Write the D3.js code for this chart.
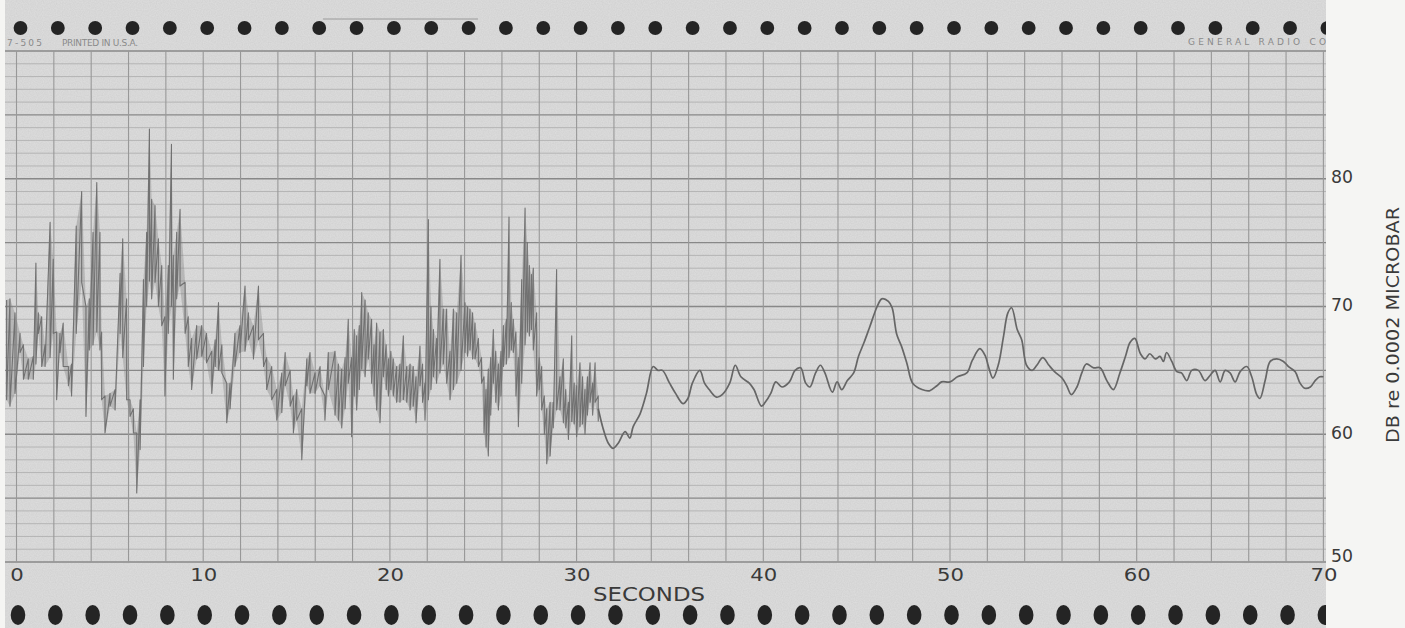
<!DOCTYPE html>
<html>
<head>
<meta charset="utf-8">
<script src="https://cdn.jsdelivr.net/npm/d3@7"></script>
<style>
    html, body { margin: 0; padding: 0; background: #f5f5f3; }
    svg { display: block; }
    .tick text { font-family: "DejaVu Sans", sans-serif; fill: #3a3a3a; }
</style>
</head>
<body>
<div id="vis"></div>
<script>
//tick labels of the recorder paper
const secondTicks = [0, 10, 20, 30, 40, 50, 60, 70]
const dbTicks = [50, 60, 70, 80]

//first half of the record (noisy): upper and lower edge of the pen scribble, in seconds / dB
const noiseTime = [-0.53, -0.35, -0.08, 0.19, 0.37, 0.63, 0.90, 1.04, 1.17, 1.35,
    1.53, 1.80, 1.97, 2.15, 2.33, 2.50, 2.78, 2.95, 3.20, 3.49,
    3.72, 3.90, 4.10, 4.30, 4.47, 4.56, 4.74, 5.01, 5.28, 5.55,
    5.69, 5.90, 6.08, 6.26, 6.44, 6.62, 6.80, 6.97, 7.12, 7.24,
    7.42, 7.60, 7.78, 7.95, 8.13, 8.30, 8.40, 8.58, 8.76, 9.03,
    9.20, 9.38, 9.65, 9.92, 10.18, 10.46, 10.64, 10.82, 11.00, 11.26,
    11.44, 11.70, 11.97, 12.24, 12.42, 12.69, 12.96, 13.23, 13.40, 13.67,
    13.94, 14.21, 14.39, 14.66, 14.83, 15.01, 15.28, 15.55, 15.72, 15.99,
    16.26, 16.52, 16.70,
    17.06, 17.24, 17.42, 17.60, 17.77, 17.95, 18.09, 18.22, 18.36, 18.49,
    18.67, 18.84, 19.02, 19.15, 19.29, 19.47, 19.65, 19.80, 19.92, 20.05,
    20.18, 20.36, 20.54, 20.72, 20.90, 21.08, 21.25, 21.40, 21.61, 21.75,
    21.88, 22.06, 22.20, 22.33, 22.50, 22.68, 22.86, 23.04, 23.22, 23.40,
    23.58, 23.81, 24.02, 24.16, 24.29, 24.43, 24.56, 24.74, 24.91, 25.04,
    25.15, 25.27, 25.40, 25.54, 25.67, 25.81, 25.95, 26.08, 26.24, 26.38,
    26.50, 26.61, 26.75, 26.88, 27.06, 27.24, 27.36, 27.47, 27.58, 27.68,
    27.86, 28.00, 28.13, 28.27, 28.40, 28.58, 28.75, 28.93, 29.11, 29.29,
    29.42, 29.56, 29.74, 29.87, 30.00, 30.18, 30.32, 30.45, 30.58, 30.72,
    30.86, 30.99, 31.16]
const noiseHigh = [70.5, 70.6, 69.5, 67.9, 67.0, 65.9, 66.1, 73.4, 69.5, 69.2,
    67.0, 76.6, 73.7, 68.0, 67.9, 68.7, 65.3, 65.5, 76.3, 79.0,
    70.0, 70.6, 75.8, 79.7, 75.8, 68.0, 63.0, 63.2, 63.5, 72.6,
    75.3, 70.6, 62.7, 62.0, 60.1, 62.7, 72.1, 75.8, 83.9, 78.4,
    77.9, 75.3, 73.2, 69.2, 73.2, 82.7, 74.0, 75.8, 77.6, 71.9,
    69.2, 67.5, 68.5, 68.5, 67.9, 66.5, 67.4, 70.3, 67.0, 64.0,
    64.0, 67.9, 68.5, 71.6, 69.5, 68.5, 71.6, 67.9, 66.0, 65.3,
    63.5, 64.8, 66.4, 65.0, 63.0, 63.5, 62.0, 65.9, 66.4, 64.8,
    65.3, 63.0, 66.4,
    66.5, 65.5, 65.1, 66.0, 69.0, 66.0, 68.2, 67.7, 68.5, 71.1,
    70.5, 69.5, 69.0, 67.0, 68.7, 68.0, 68.2, 67.0, 65.9, 66.5,
    65.9, 65.3, 65.5, 67.7, 65.3, 65.5, 65.3, 64.5, 66.9, 65.5,
    64.0, 76.8, 70.0, 68.2, 67.5, 73.7, 69.8, 69.8, 66.5, 69.8,
    69.5, 74.0, 70.3, 70.0, 69.8, 69.5, 68.7, 67.5, 66.0, 64.5,
    63.5, 65.1, 66.0, 68.2, 66.5, 65.5, 66.5, 68.5, 69.0, 77.0,
    70.3, 69.0, 68.0, 66.0, 72.1, 77.7, 75.0, 73.2, 72.5, 73.0,
    69.5, 66.0, 65.3, 63.0, 62.0, 62.5, 62.5, 72.9, 64.5, 65.9,
    63.5, 62.5, 67.7, 64.0, 63.8, 65.6, 64.5, 63.5, 64.5, 65.6,
    64.0, 65.6, 63.0]
const noiseLow = [62.7, 62.2, 63.2, 66.4, 64.3, 64.3, 64.3, 65.5, 67.9, 65.3,
    65.3, 66.0, 67.9, 62.7, 66.4, 65.3, 63.8, 63.0, 67.9, 71.9,
    61.4, 66.6, 67.0, 68.0, 66.6, 62.7, 60.1, 62.2, 61.9, 67.9,
    66.0, 62.7, 61.4, 60.1, 55.4, 58.8, 65.3, 70.0, 72.0, 70.6,
    71.9, 70.0, 68.5, 63.0, 67.9, 70.0, 64.3, 70.6, 71.6, 67.9,
    65.3, 63.5, 65.9, 66.1, 65.6, 63.2, 65.3, 65.0, 64.8, 60.9,
    62.0, 65.3, 66.4, 66.5, 67.4, 65.9, 67.4, 65.3, 63.5, 62.7,
    61.1, 61.7, 63.8, 62.2, 60.1, 61.1, 58.0, 63.8, 63.2, 63.2,
    63.8, 61.1, 63.5,
    61.5, 61.1, 60.5, 62.0, 64.0, 59.8, 63.0, 61.9, 63.5, 65.1,
    64.5, 65.9, 64.0, 63.0, 61.9, 60.9, 64.5, 63.5, 63.0, 63.5,
    63.0, 62.5, 62.5, 62.7, 62.5, 61.9, 62.2, 60.9, 63.8, 62.5,
    61.1, 62.7, 63.5, 64.5, 64.0, 64.8, 65.5, 64.0, 62.7, 63.5,
    64.0, 65.0, 66.4, 66.1, 66.6, 65.9, 65.9, 65.3, 64.0, 60.1,
    59.0, 58.3, 61.5, 64.0, 62.5, 61.9, 63.0, 65.3, 65.5, 66.0,
    66.6, 66.4, 63.0, 60.6, 64.0, 67.0, 68.0, 67.7, 68.2, 66.6,
    63.0, 63.5, 61.9, 60.0, 57.7, 58.3, 60.5, 61.9, 61.9, 60.9,
    60.5, 59.6, 61.0, 60.8, 59.8, 60.6, 60.8, 60.0, 61.5, 62.5,
    61.5, 62.5, 61.0]

//second half of the record (smooth trace)
const smoothTime = [31.16, 31.43, 31.7, 31.96, 32.23, 32.6, 32.85, 33.03, 33.4, 33.74,
    34.1, 34.36, 34.6, 34.98, 35.3, 35.7, 35.96, 36.2, 36.6, 36.85,
    37.1, 37.5, 37.8, 38.2, 38.5, 38.8, 39.25, 39.5, 39.9, 40.1,
    40.4, 40.67, 41.0, 41.4, 41.7, 42.0, 42.27, 42.5, 42.8, 43.06,
    43.3, 43.7, 43.95, 44.2, 44.5, 44.84, 45.1, 45.4, 45.7, 46.1,
    46.35, 46.7, 46.9, 47.15, 47.4, 47.7, 48.0, 48.5, 48.9, 49.3,
    49.55, 50.0, 50.4, 50.9, 51.2, 51.6, 51.9, 52.06, 52.3, 52.6,
    52.86, 53.1, 53.3, 53.6, 53.84, 54.1, 54.4, 54.65, 54.97, 55.3,
    55.6, 56.0, 56.25, 56.5, 56.8, 57.06, 57.3, 57.7, 58.04, 58.4,
    58.75, 59.1, 59.4, 59.65, 59.9, 60.2, 60.45, 60.7, 61.0, 61.25,
    61.43, 61.6, 61.88, 62.15, 62.4, 62.68, 62.95, 63.3, 63.66, 63.93,
    64.2, 64.47, 64.74, 65.0, 65.27, 65.54, 65.9, 66.16, 66.43, 66.6,
    66.88, 67.15, 67.5, 67.86, 68.13, 68.49, 68.75, 69.0, 69.3, 69.56,
    69.8, 70.0]
const smoothLevel = [62.0, 60.4, 59.3, 58.9, 59.3, 60.2, 59.7, 60.6, 61.6, 63.2,
    65.3, 65.0, 65.0, 64.0, 63.2, 62.4, 62.8, 64.0, 65.0, 64.0,
    63.5, 62.9, 63.1, 64.0, 65.4, 64.5, 64.0, 63.5, 62.2, 62.5,
    63.2, 64.1, 63.7, 64.1, 65.0, 65.2, 64.0, 63.7, 64.8, 65.4,
    64.8, 63.3, 64.1, 63.5, 64.2, 64.8, 66.1, 67.2, 68.4, 70.0,
    70.6, 70.4, 69.9, 67.8, 66.9, 65.5, 64.0, 63.5, 63.4, 63.8,
    64.1, 64.1, 64.5, 64.8, 65.8, 66.7, 66.1, 65.3, 64.4, 65.5,
    67.6, 69.5, 69.9, 68.2, 67.4, 65.4, 65.0, 65.4, 66.0, 65.4,
    64.9, 64.4, 63.8, 63.1, 63.7, 64.8, 65.5, 65.2, 65.2, 64.2,
    63.5, 64.8, 66.1, 67.2, 67.5, 66.3, 65.9, 66.3, 65.9, 66.1,
    65.7, 66.4, 65.7, 64.9, 64.8, 64.2, 65.0, 65.0, 64.2, 64.6,
    65.0, 64.1, 65.0, 64.8, 64.1, 64.9, 65.3, 64.5, 63.1, 62.8,
    64.2, 65.7, 65.9, 65.7, 65.3, 64.9, 64.0, 63.6, 63.7, 64.2,
    64.5, 64.5]

const W = 1405
const H = 628
const paper = {left: 5, right: 1326}

const svg = d3.select("#vis").append("svg")
    .attr("width", W)
    .attr("height", H)

//seconds run along the paper, dB up the paper
const x = d3.scaleLinear().domain([0, 70]).range([16.5, 1323.4])
const y = d3.scaleLinear().domain([50, 90]).range([562, 51])

const defs = svg.append("defs")
defs.append("clipPath").attr("id", "paperClip")
    .append("rect")
    .attr("x", paper.left).attr("y", 0)
    .attr("width", paper.right - paper.left).attr("height", H)

//halftone look of the printed sheet
const grain = defs.append("filter").attr("id", "grain")
    .attr("x", 0).attr("y", 0).attr("width", "100%").attr("height", "100%")
grain.append("feTurbulence")
    .attr("type", "fractalNoise")
    .attr("baseFrequency", 0.85)
    .attr("numOctaves", 1)
    .attr("seed", 3)
grain.append("feColorMatrix")
    .attr("type", "matrix")
    .attr("values", "0 0 0 0 0.35  0 0 0 0 0.35  0 0 0 0 0.35  0 0 0 0.55 -0.12")

const sheet = svg.append("g").attr("clip-path", "url(#paperClip)")

sheet.append("rect")
    .attr("x", paper.left).attr("y", 0)
    .attr("width", paper.right - paper.left).attr("height", H)
    .attr("fill", "#dcdcdc")

sheet.append("rect")
    .attr("x", paper.left).attr("y", 0)
    .attr("width", paper.right - paper.left).attr("height", H)
    .attr("filter", "url(#grain)")
    .attr("opacity", 0.5)

//horizontal rulings every dB, heavier every 5 dB
sheet.append("g").selectAll("line")
    .data(d3.range(50, 91, 1))
    .enter().append("line")
    .attr("x1", paper.left).attr("x2", paper.right)
    .attr("y1", d => y(d)).attr("y2", d => y(d))
    .attr("stroke", d => d % 5 === 0 ? "#888888" : "#acacac")
    .attr("stroke-width", d => d % 5 === 0 ? 1.4 : 0.8)

//vertical rulings every 2 seconds
sheet.append("g").selectAll("line")
    .data(d3.range(0, 71, 2))
    .enter().append("line")
    .attr("x1", d => x(d)).attr("x2", d => x(d))
    .attr("y1", y(90)).attr("y2", y(50))
    .attr("stroke", "#989898")
    .attr("stroke-width", 1.1)

//sprocket holes
sheet.append("g").selectAll("circle")
    .data(d3.range(0, 71, 2))
    .enter().append("circle")
    .attr("cx", d => x(d) + 4)
    .attr("cy", 28)
    .attr("r", 6.9)
    .attr("fill", "#242424")

sheet.append("g").selectAll("ellipse")
    .data(d3.range(0, 71, 2))
    .enter().append("ellipse")
    .attr("cx", d => x(d) + 1.5)
    .attr("cy", 615)
    .attr("rx", 7.3)
    .attr("ry", 10)
    .attr("fill", "#242424")

//printing on the chart paper
const printed = sheet.append("g")
    .style("font-family", "'DejaVu Sans', sans-serif")
    .style("font-size", "9px")
    .attr("fill", "#8a8a8a")
printed.append("text").attr("x", 7).attr("y", 46).attr("textLength", 35).text("7-505")
printed.append("text").attr("x", 62).attr("y", 46).attr("textLength", 76).text("PRINTED IN U.S.A.")
printed.append("text").attr("x", 1188).attr("y", 45).attr("textLength", 185).text("GENERAL RADIO COMPANY")
sheet.append("line")
    .attr("x1", 323).attr("x2", 478).attr("y1", 19).attr("y2", 19)
    .attr("stroke", "#9a9a9a").attr("stroke-width", 1)

//the pen trace: band between upper and lower edge of the scribble
const band = noiseTime.map((t, i) => ({t: t, hi: noiseHigh[i], lo: noiseLow[i]}))

sheet.append("path")
    .datum(band)
    .attr("d", d3.area()
        .x(d => x(d.t))
        .y0(d => y(d.lo))
        .y1(d => y(d.hi)))
    .attr("fill", "#7a7a7a")
    .attr("opacity", 0.35)

const scribble = []
band.forEach(d => {
    scribble.push([d.t, d.hi])
    scribble.push([d.t, d.lo])
})

const penLine = d3.line()
    .x(d => x(d[0]))
    .y(d => y(d[1]))

sheet.append("path")
    .datum(scribble)
    .attr("d", penLine)
    .attr("fill", "none")
    .attr("stroke", "#717171")
    .attr("stroke-width", 1.1)
    .attr("stroke-linejoin", "round")

sheet.append("path")
    .datum(smoothTime.map((t, i) => [t, smoothLevel[i]]))
    .attr("d", penLine.curve(d3.curveCatmullRom.alpha(0.5)))
    .attr("fill", "none")
    .attr("stroke", "#666666")
    .attr("stroke-width", 1.7)

//axis labels
const xAxis = svg.append("g")
    .attr("transform", "translate(0," + y(50) + ")")
    .call(d3.axisBottom(x).tickValues(secondTicks).tickSize(0).tickPadding(6))
xAxis.select(".domain").remove()
xAxis.selectAll("text")
    .style("font-size", "18px")
    .attr("textLength", d => String(d).length * 13.5)
    .attr("lengthAdjust", "spacingAndGlyphs")

svg.append("text")
    .attr("x", 649).attr("y", 600.5)
    .attr("text-anchor", "middle")
    .attr("textLength", 112)
    .attr("lengthAdjust", "spacingAndGlyphs")
    .style("font-family", "'DejaVu Sans', sans-serif")
    .style("font-size", "20px")
    .attr("fill", "#3a3a3a")
    .text("SECONDS")

const yAxis = svg.append("g")
    .attr("transform", "translate(1331,0)")
    .call(d3.axisRight(y).tickValues(dbTicks).tickSize(0).tickPadding(0))
yAxis.select(".domain").remove()
yAxis.selectAll("text")
    .style("font-size", "18px")
    .attr("y", d => d === 50 ? -6 : -2)
    .attr("textLength", 22)
    .attr("lengthAdjust", "spacingAndGlyphs")

svg.append("text")
    .attr("transform", "translate(1392,325) rotate(-90)")
    .attr("text-anchor", "middle")
    .attr("dominant-baseline", "central")
    .attr("textLength", 236)
    .attr("lengthAdjust", "spacingAndGlyphs")
    .style("font-family", "'DejaVu Sans', sans-serif")
    .style("font-size", "18px")
    .attr("fill", "#3a3a3a")
    .text("DB re 0.0002 MICROBAR")
</script>
</body>
</html>
